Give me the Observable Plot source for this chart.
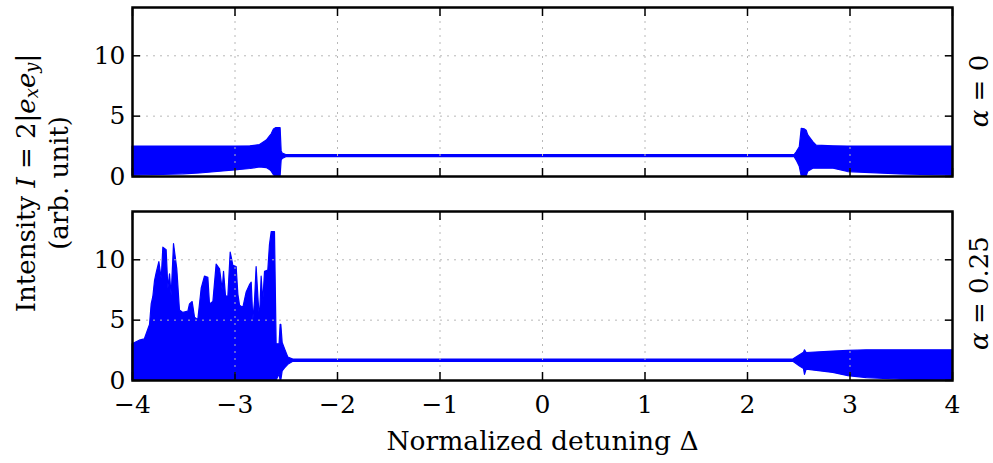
<!DOCTYPE html>
<html>
<head>
<meta charset="utf-8">
<script src="https://cdn.jsdelivr.net/npm/d3@7"></script>
<script src="https://cdn.jsdelivr.net/npm/@observablehq/plot@0.6"></script>
<style>
  html, body { margin: 0; padding: 0; background: white; }
  #wrap { position: relative; width: 993px; height: 463px; }
  #wrap svg { display: block; }
  #overlay { position: absolute; left: 0; top: 0; pointer-events: none; }
</style>
</head>
<body>
<div id="wrap"></div>
<script>
// ---- data (envelopes of the oscillating intensity) ----
const xTicks = [-4, -3, -2, -1, 0, 1, 2, 3, 4];
const yTicks = [0, 5, 10];
const xLabel = "Normalized detuning Δ";
const panelLabels = ["0", "0.25"];

// alpha = 0
const topX  = [-4.00, -3.50, -3.34, -3.00, -2.85, -2.756, -2.69, -2.66, -2.642, -2.62, -2.60, -2.57, -2.555, -2.545, -2.535, -2.50, 2.46, 2.48, 2.51, 2.529, 2.56, 2.577, 2.593, 2.642, 2.675, 2.84, 2.98, 3.49, 4.00];
const topHi = [2.48, 2.48, 2.48, 2.48, 2.5, 2.6, 2.98, 3.3, 3.5, 3.9, 4.0, 4.0, 4.0, 2.1, 1.9, 1.78, 1.78, 2.0, 2.42, 3.95, 3.9, 3.8, 3.4, 2.85, 2.55, 2.5, 2.48, 2.48, 2.48];
const topLo = [0.08, 0.18, 0.25, 0.5, 0.62, 0.75, 0.7, 0.55, 0.4, 0.1, 0, 0, 0, 1.3, 1.45, 1.6, 1.6, 1.32, 0.8, 0, 0, 0, 0.4, 0.65, 0.65, 0.65, 0.37, 0.17, 0.08];

// alpha = 0.25
const botX  = [-4.00, -3.93, -3.88, -3.846, -3.829, -3.813, -3.797, -3.78, -3.764, -3.738, -3.715, -3.699, -3.667, -3.65, -3.634, -3.618, -3.595, -3.563, -3.537, -3.504, -3.455, -3.439, -3.413, -3.39, -3.358, -3.325, -3.293, -3.26, -3.244, -3.211, -3.179, -3.146, -3.12, -3.107, -3.088, -3.065, -3.042, -3.016, -2.984, -2.967, -2.951, -2.919, -2.886, -2.854, -2.837, -2.821, -2.805, -2.789, -2.769, -2.756, -2.74, -2.724, -2.707, -2.675, -2.659, -2.642, -2.61, -2.594, -2.565, -2.555, -2.548, -2.535, -2.512, -2.48, -2.431, 2.447, 2.512, 2.551, 2.561, 2.577, 2.837, 2.984, 3.163, 3.488, 4.00];
const botHi = [3.0, 3.3, 3.4, 4.2, 4.6, 6.3, 6.9, 8.25, 8.9, 9.8, 8.4, 11.0, 10.8, 7.6, 8.8, 7.0, 11.3, 9.2, 5.8, 5.6, 5.7, 6.3, 6.5, 5.2, 5.0, 7.6, 8.6, 8.5, 6.3, 6.5, 9.6, 9.2, 7.5, 9.0, 7.0, 6.9, 10.6, 9.5, 9.4, 7.1, 6.2, 6.0, 7.3, 7.9, 8.1, 5.0, 6.5, 9.4, 6.5, 5.1, 8.6, 6.5, 9.0, 9.1, 11.2, 12.3, 12.3, 3.0, 3.0, 4.6, 4.6, 3.1, 2.6, 1.9, 1.74, 1.74, 2.1, 2.3, 2.5, 2.28, 2.4, 2.45, 2.5, 2.5, 2.5];
const botLo = [0, 0, 0, 0, 0, 0, 0, 0, 0, 0, 0, 0, 0, 0, 0, 0, 0, 0, 0, 0, 0, 0, 0, 0, 0, 0, 0, 0, 0, 0, 0, 0, 0, 0, 0, 0, 0, 0, 0, 0, 0, 0, 0, 0, 0, 0, 0, 0, 0, 0, 0, 0, 0, 0, 0, 0, 0, 0, 0.5, 0, 0, 0.75, 1.0, 1.3, 1.55, 1.55, 1.17, 0.95, 0.47, 0.9, 0.63, 0.36, 0.2, 0.08, 0.0];

const FONT = "DejaVu Serif";
const BLUE = "#0000ff";

function panel(xs, lo, hi, height, marginTop, marginBottom, showX) {
  const data = xs.map((x, i) => ({x, lo: lo[i], hi: hi[i]}));
  const marks = [
    Plot.areaY(data, {x: "x", y1: "lo", y2: "hi", fill: BLUE, stroke: BLUE, strokeWidth: 1.2}),
    Plot.gridX(xTicks, {stroke: "#b8b8b8", strokeOpacity: 1, strokeDasharray: "2,5", strokeWidth: 1}),
    Plot.gridY(yTicks, {stroke: "#b8b8b8", strokeOpacity: 1, strokeDasharray: "2,5", strokeWidth: 1}),
    Plot.axisX(xTicks, {anchor: "bottom", tickSize: -8, strokeWidth: 1.5, text: null, label: null}),
    Plot.axisX(xTicks, {anchor: "top", tickSize: -8, strokeWidth: 1.5, text: null, label: null}),
    Plot.axisY(yTicks, {anchor: "left", tickSize: -8, strokeWidth: 1.5, text: null, label: null}),
    Plot.axisY(yTicks, {anchor: "right", tickSize: -8, strokeWidth: 1.5, text: null, label: null}),
    Plot.axisY(yTicks, {anchor: "left", tickSize: 0, tickPadding: 7, fontSize: 25, label: null}),
    Plot.frame({stroke: "black", strokeWidth: 2.5})
  ];
  if (showX) {
    marks.push(Plot.axisX(xTicks, {anchor: "bottom", tickSize: 0, tickPadding: 15, fontSize: 25, label: null}));
    marks.push(Plot.text([xLabel], {frameAnchor: "bottom", dy: 61, text: d => d, fontSize: 26.5, lineAnchor: "middle"}));
  }
  return Plot.plot({
    width: 993, height, marginLeft: 132, marginRight: 41, marginTop, marginBottom,
    style: {fontFamily: FONT, fontSize: "25px", color: "black", background: "white", overflow: "visible"},
    x: {domain: [-4, 4]},
    y: {domain: [0, 14]},
    marks
  });
}

const wrap = document.getElementById("wrap");
wrap.appendChild(panel(topX, topLo, topHi, 190, 7, 14, false));
wrap.appendChild(panel(botX, botLo, botHi, 273, 21, 83, true));

// overlay text: y label spanning both panels and the alpha labels
const ov = d3.select(wrap).append("svg")
  .attr("id", "overlay").attr("width", 993).attr("height", 463)
  .style("font-family", FONT).style("font-size", "26px");

const l1 = ov.append("text").attr("text-anchor", "middle").attr("dominant-baseline", "middle")
  .attr("transform", "translate(28,183) rotate(-90)");
l1.append("tspan").text("Intensity ");
l1.append("tspan").attr("font-style", "italic").text("I");
l1.append("tspan").text(" = 2|");
l1.append("tspan").attr("font-style", "italic").text("e");
l1.append("tspan").attr("font-style", "italic").attr("font-size", "18px").attr("dy", "5").text("x");
l1.append("tspan").attr("font-style", "italic").attr("dy", "-5").text("e");
l1.append("tspan").attr("font-style", "italic").attr("font-size", "18px").attr("dy", "5").text("y");
l1.append("tspan").attr("dy", "-5").text("|");

ov.append("text").attr("text-anchor", "middle").attr("dominant-baseline", "middle")
  .attr("transform", "translate(61,183) rotate(-90)").text("(arb. unit)");

[[91, panelLabels[0]], [293, panelLabels[1]]].forEach(([cy, v]) => {
  const t = ov.append("text").attr("text-anchor", "middle").attr("dominant-baseline", "middle")
    .attr("transform", `translate(981,${cy}) rotate(-90)`);
  t.append("tspan").attr("font-style", "italic").text("α");
  t.append("tspan").text(" = " + v);
});
</script>
</body>
</html>
